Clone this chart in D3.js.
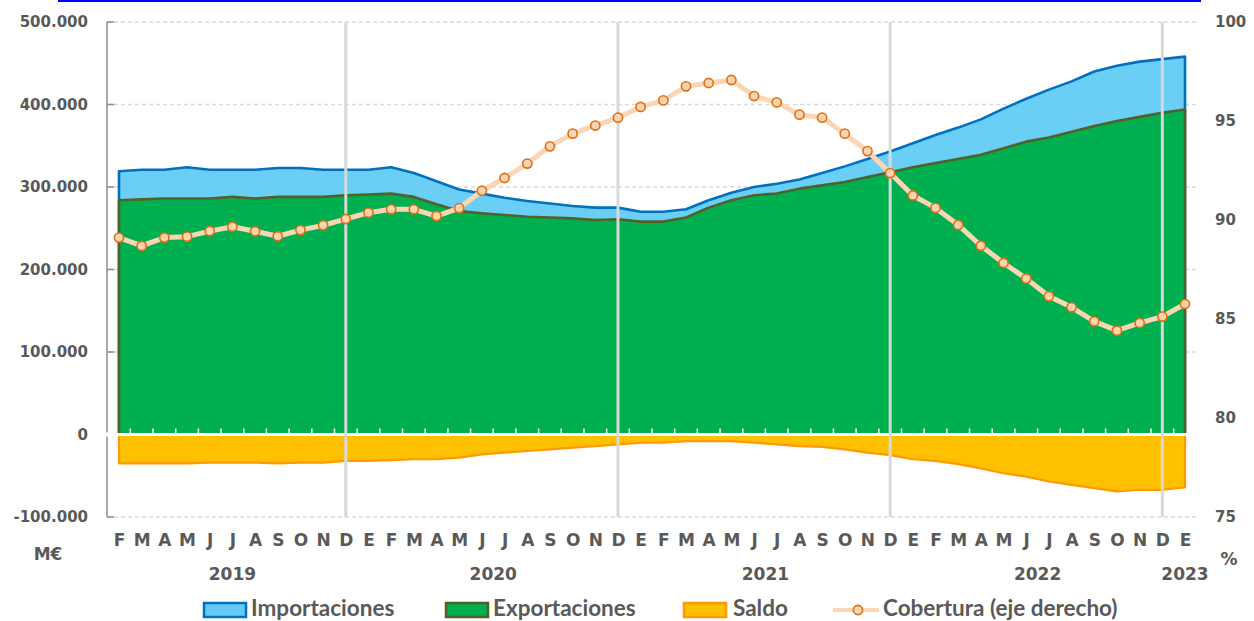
<!DOCTYPE html>
<html>
<head>
<meta charset="utf-8">
<script src="https://cdn.jsdelivr.net/npm/d3@7"></script>
<style>
  html, body { margin: 0; padding: 0; background: #ffffff; }
  svg { display: block; }
</style>
</head>
<body>
<svg id="chart" width="1254" height="621"></svg>
<script>
// ---------------- DATA ----------------
// Monthly categories: Feb 2019 ... Jan 2023 (interannual accumulated, M€ thousands)
const monthLabels = ["F","M","A","M","J","J","A","S","O","N","D",
  "E","F","M","A","M","J","J","A","S","O","N","D",
  "E","F","M","A","M","J","J","A","S","O","N","D",
  "E","F","M","A","M","J","J","A","S","O","N","D",
  "E"];
const firstYear = 2019;
const firstMonthIndex = 1; // February
const yearLabels = ["2019","2020","2021","2022","2023"];

// Values in thousands of M€ (shown as 300.000 etc.)
const importaciones = [319,321,321,324,321,321,321,323,323,321,321,
  321,324,317,307,297,292,287,283,280,277,275,275,
  270,270,273,284,293,300,304,309,317,325,334,343,
  353,363,372,382,395,407,418,428,440,447,452,455,
  458];
const exportaciones = [284,285,286,286,286,288,286,288,288,288,290,
  291,292,288,279,271,268,266,264,263,262,260,261,
  258,258,263,275,284,290,292,298,302,306,312,318,
  324,329,334,339,347,355,360,367,374,380,385,390,
  394];
const saldo = [-35,-35,-35,-35,-34,-34,-34,-35,-34,-34,-32,
  -32,-31,-30,-30,-28,-24,-22,-20,-18,-16,-14,-12,
  -10,-10,-8,-8,-8,-10,-12,-14,-15,-18,-22,-25,
  -30,-32,-36,-41,-47,-51,-57,-61,-65,-69,-67,-67,
  -64];
const cobertura = [89.11,88.69,89.11,89.16,89.44,89.66,89.43,89.18,89.49,89.73,90.05,
  90.37,90.54,90.54,90.20,90.60,91.48,92.12,92.85,93.72,94.36,94.77,95.17,
  95.71,96.04,96.75,96.92,97.07,96.26,95.94,95.32,95.17,94.36,93.48,92.37,
  91.24,90.61,89.75,88.70,87.83,87.04,86.15,85.59,84.88,84.41,84.80,85.12,
  85.76];

const leftTicks = [-100,0,100,200,300,400,500];
const rightTicks = [75,80,85,90,95,100];
const seriesNames = ["Importaciones","Exportaciones","Saldo","Cobertura (eje derecho)"];

// ---------------- CHART ----------------
const svg = d3.select("#chart");
const txtColor = "#595959";
const axisFont = "'DejaVu Sans', Verdana, sans-serif";
const legendFont = "Lato, 'Open Sans', sans-serif";

const plotTop = 22, plotBottom = 517, plotLeft = 107, plotRight = 1196;
const idx = d3.range(monthLabels.length);

const x = d3.scalePoint().domain(idx).range([119, 1185]);
const yL = d3.scaleLinear().domain([-100, 500]).range([plotBottom, plotTop]);
const yR = d3.scaleLinear().domain([75, 100]).range([plotBottom, plotTop]);

const locale = d3.formatLocale({decimal: ",", thousands: ".", grouping: [3], currency: ["", "€"], minus: "-"});
const fmt = locale.format(",");

// gridlines (left axis)
svg.append("g").selectAll("line")
  .data(leftTicks.filter(d => d !== 0))
  .join("line")
  .attr("x1", plotLeft).attr("x2", plotRight)
  .attr("y1", d => yL(d)).attr("y2", d => yL(d))
  .attr("stroke", "#d9d9d9").attr("stroke-width", 1.3)
  .attr("stroke-dasharray", "4,3");

// areas
const areaFrom = (arr) => d3.area()
  .x((d, i) => x(i))
  .y0(yL(0))
  .y1(d => yL(d));

svg.append("path").datum(importaciones)
  .attr("d", d => areaFrom(d)(d) + "Z")
  .attr("fill", "#66ccf5").attr("fill-opacity", 0.97)
  .attr("stroke", "#0070c0").attr("stroke-width", 2.6).attr("stroke-linejoin", "round");

svg.append("path").datum(exportaciones)
  .attr("d", d => areaFrom(d)(d) + "Z")
  .attr("fill", "#00b050")
  .attr("stroke", "#4f6228").attr("stroke-width", 2.6).attr("stroke-linejoin", "round");

svg.append("path").datum(saldo)
  .attr("d", d => areaFrom(d)(d) + "Z")
  .attr("fill", "#ffc000")
  .attr("stroke", "#ff9900").attr("stroke-width", 2.2).attr("stroke-linejoin", "round");

// zero line (white) with category-boundary ticks
svg.append("line")
  .attr("x1", plotLeft - 1).attr("x2", 1190)
  .attr("y1", yL(0)).attr("y2", yL(0))
  .attr("stroke", "#ffffff").attr("stroke-width", 3);
svg.append("g").selectAll("line")
  .data(idx.slice(1))
  .join("line")
  .attr("x1", i => (x(i) + x(i - 1)) / 2).attr("x2", i => (x(i) + x(i - 1)) / 2)
  .attr("y1", yL(0)).attr("y2", yL(0) - 6)
  .attr("stroke", "#ffffff").attr("stroke-width", 1.5);

// vertical separators at each December
svg.append("g").selectAll("line")
  .data(idx.filter(i => (i + firstMonthIndex) % 12 === 11))
  .join("line")
  .attr("x1", i => x(i)).attr("x2", i => x(i))
  .attr("y1", plotTop).attr("y2", plotBottom)
  .attr("stroke", "#d9d9d9").attr("stroke-width", 3);

// left axis line & ticks
svg.append("line")
  .attr("x1", plotLeft).attr("x2", plotLeft)
  .attr("y1", plotTop).attr("y2", yL(0) - 2)
  .attr("stroke", "#8c8c8c").attr("stroke-width", 1.5);
svg.append("line")
  .attr("x1", plotLeft).attr("x2", plotLeft)
  .attr("y1", yL(0) + 2).attr("y2", plotBottom)
  .attr("stroke", "#8c8c8c").attr("stroke-width", 1.5);
svg.append("g").selectAll("line")
  .data(leftTicks.filter(d => d !== 0))
  .join("line")
  .attr("x1", plotLeft).attr("x2", plotLeft + 7)
  .attr("y1", d => yL(d)).attr("y2", d => yL(d))
  .attr("stroke", "#8c8c8c").attr("stroke-width", 1.5);

// cobertura line
svg.append("path").datum(cobertura)
  .attr("d", d3.line().x((d, i) => x(i)).y(d => yR(d)))
  .attr("fill", "none").attr("stroke", "#fcd5b5").attr("stroke-width", 5)
  .attr("stroke-linejoin", "round");
svg.append("g").selectAll("circle")
  .data(cobertura)
  .join("circle")
  .attr("cx", (d, i) => x(i)).attr("cy", d => yR(d)).attr("r", 4.6)
  .attr("fill", "#fcd5b5").attr("stroke", "#e46c0a").attr("stroke-width", 1.6);

// left axis labels
const gL = svg.append("g").attr("transform", `translate(${plotLeft},0)`)
  .call(d3.axisLeft(yL).tickValues(leftTicks).tickSize(0).tickPadding(19)
    .tickFormat(d => fmt(d * 1000)));
gL.select(".domain").remove();
gL.selectAll("text").attr("fill", txtColor).attr("font-family", axisFont)
  .attr("font-weight", "bold").attr("font-size", 15);

// right axis labels
const gR = svg.append("g").attr("transform", `translate(${plotRight},0)`)
  .call(d3.axisRight(yR).tickValues(rightTicks).tickSize(0).tickPadding(19));
gR.select(".domain").remove();
gR.selectAll("text").attr("fill", txtColor).attr("font-family", axisFont)
  .attr("font-weight", "bold").attr("font-size", 15);

// month labels
const gX = svg.append("g").attr("transform", `translate(0,${plotBottom})`)
  .call(d3.axisBottom(x).tickSize(0).tickPadding(17).tickFormat(i => monthLabels[i]));
gX.select(".domain").remove();
gX.selectAll("text").attr("fill", txtColor).attr("font-family", axisFont)
  .attr("font-weight", "bold").attr("font-size", 17);

// year labels (centred on their months)
const yearOf = i => firstYear + Math.floor((i + firstMonthIndex) / 12);
svg.append("g").selectAll("text")
  .data(yearLabels)
  .join("text")
  .attr("x", yl => d3.mean(idx.filter(i => String(yearOf(i)) === yl), i => x(i)))
  .attr("y", 580)
  .attr("text-anchor", "middle")
  .attr("fill", txtColor).attr("font-family", axisFont)
  .attr("font-weight", "bold").attr("font-size", 17)
  .text(d => d);

// unit labels
svg.append("text").attr("x", 48).attr("y", 560).attr("text-anchor", "middle")
  .attr("fill", txtColor).attr("font-family", axisFont).attr("font-weight", "bold")
  .attr("font-size", 17).text("M€");
svg.append("text").attr("x", 1229).attr("y", 565).attr("text-anchor", "middle")
  .attr("fill", txtColor).attr("font-family", axisFont).attr("font-weight", "bold")
  .attr("font-size", 17).text("%");

// top blue rule
svg.append("line").attr("x1", 58).attr("x2", 1201).attr("y1", 1).attr("y2", 1)
  .attr("stroke", "#0000ff").attr("stroke-width", 2);

// legend
const legend = svg.append("g");
const legendY = 616;
const swatches = [
  {name: seriesNames[0], x: 204, fill: "#66ccf5", stroke: "#0070c0", tx: 251},
  {name: seriesNames[1], x: 446, fill: "#00b050", stroke: "#4f6228", tx: 493},
  {name: seriesNames[2], x: 684, fill: "#ffc000", stroke: "#ff9900", tx: 733}
];
swatches.forEach(s => {
  legend.append("rect").attr("x", s.x).attr("y", 603).attr("width", 42).attr("height", 14)
    .attr("fill", s.fill).attr("stroke", s.stroke).attr("stroke-width", 2.5);
  legend.append("text").attr("x", s.tx).attr("y", legendY)
    .attr("fill", txtColor).attr("font-family", legendFont).attr("font-weight", "bold")
    .attr("font-size", 22.5).text(s.name);
});
legend.append("line").attr("x1", 833).attr("x2", 879).attr("y1", 610).attr("y2", 610)
  .attr("stroke", "#fcd5b5").attr("stroke-width", 4);
legend.append("circle").attr("cx", 858).attr("cy", 610).attr("r", 4.6)
  .attr("fill", "#fcd5b5").attr("stroke", "#e46c0a").attr("stroke-width", 1.6);
legend.append("text").attr("x", 883).attr("y", legendY)
  .attr("fill", txtColor).attr("font-family", legendFont).attr("font-weight", "bold")
  .attr("font-size", 22.5).text(seriesNames[3]);
</script>
</body>
</html>
